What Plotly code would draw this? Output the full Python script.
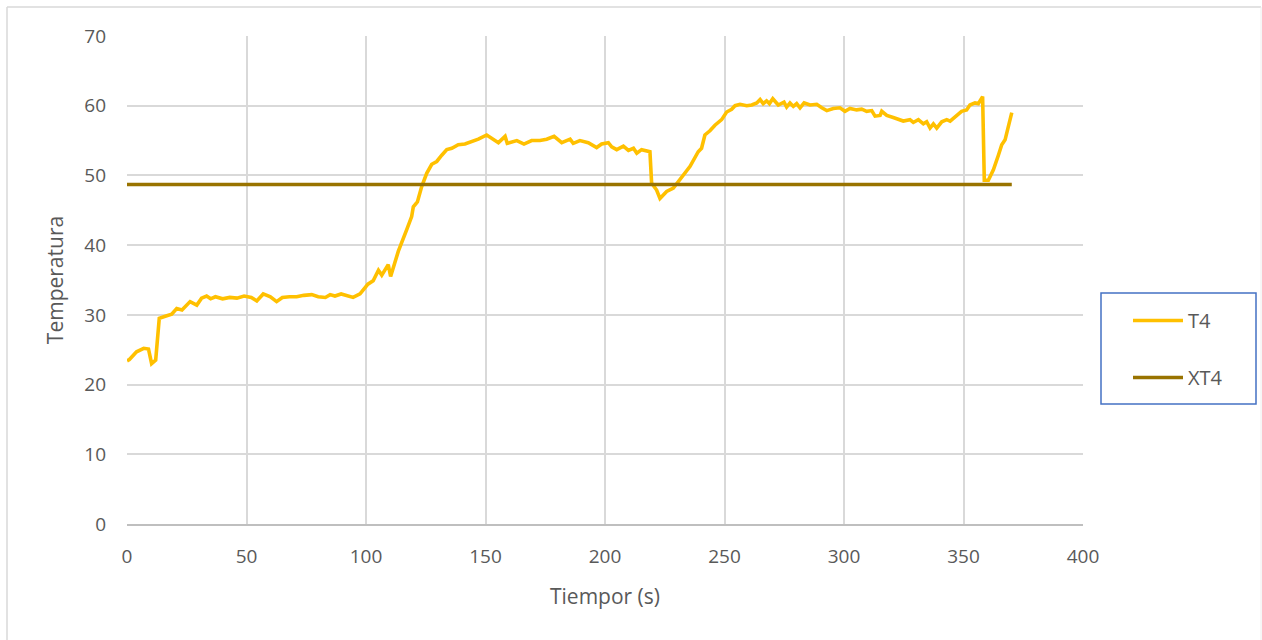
import plotly.graph_objects as go

# Time (s) and measured temperature T4
tiempo = [0, 1, 4, 7, 9, 10.3, 12, 13.5, 16, 18.7, 20.8, 23, 26.4, 29.2, 31.2, 33.3,
          35, 37, 40, 43, 46, 49, 52, 54.3, 57, 60, 62.6, 65, 68, 71, 74, 77.3, 80,
          83, 85, 87, 89.6, 92, 94.6, 97.5, 100.8, 103, 105.2, 106.6, 109.3, 110.3,
          113.5, 117, 119.1, 119.8, 121.5, 123.3, 125.4, 127.5, 129.6, 131.7, 133.8,
          135.9, 138.6, 141.4, 144.2, 147, 150.5, 152.6, 155.4, 158.2, 159.1, 163.1,
          166.1, 169.3, 172.8, 175.6, 178.7, 181.9, 185.4, 186.7, 189.5, 193, 196.5,
          198.6, 201.4, 202.8, 204.9, 207.7, 209.8, 211.9, 213.3, 215.3, 218.8, 219.5,
          221.6, 223, 225.8, 228.6, 231.4, 233.9, 235.6, 239, 240.4, 241.8, 243.9, 246,
          248.8, 250.9, 253, 254.4, 256.5, 259.3, 261.4, 263.5, 264.9, 266.2, 267.6,
          268.8, 270.2, 272.5, 274.9, 276, 277.4, 278.8, 280.2, 281.6, 283.3, 285.8,
          288.6, 290.7, 292.8, 295.5, 298.3, 300.4, 302.5, 305.3, 307.4, 309.5, 311.6,
          313, 315.1, 315.8, 317.9, 320.6, 322.7, 324.8, 327.6, 329, 331.1, 333.2,
          334.6, 336, 337.4, 338.8, 340.9, 343, 344.4, 346.4, 349.2, 351.3, 352.7,
          354.8, 356.2, 358, 358.7, 360.4, 362.5, 364.6, 366, 367.4, 368.8, 370.2]

t4 = [23.4, 23.6, 24.7, 25.2, 25.1, 23.0, 23.5, 29.5, 29.8, 30.1, 30.9, 30.7, 31.9,
      31.4, 32.4, 32.7, 32.3, 32.6, 32.3, 32.5, 32.4, 32.7, 32.5, 32.0, 33.0, 32.6,
      31.9, 32.5, 32.6, 32.6, 32.8, 32.9, 32.6, 32.5, 32.9, 32.7, 33.0, 32.8, 32.5,
      33.0, 34.4, 34.9, 36.4, 35.7, 37.2, 35.5, 39.1, 42.2, 44.1, 45.5, 46.2, 48.4,
      50.3, 51.6, 52.0, 52.9, 53.7, 53.9, 54.4, 54.5, 54.8, 55.2, 55.8, 55.3, 54.7,
      55.6, 54.6, 55.0, 54.5, 55.0, 55.0, 55.2, 55.6, 54.7, 55.2, 54.6, 55.0, 54.7,
      54.0, 54.5, 54.7, 54.1, 53.7, 54.2, 53.6, 53.9, 53.2, 53.7, 53.4, 48.9, 47.9,
      46.7, 47.7, 48.2, 49.5, 50.5, 51.3, 53.4, 53.9, 55.8, 56.4, 57.2, 58.0, 59.1,
      59.5, 60.0, 60.2, 60.0, 60.1, 60.4, 60.9, 60.3, 60.7, 60.3, 61.0, 60.1, 60.5,
      59.8, 60.4, 59.9, 60.3, 59.7, 60.4, 60.1, 60.2, 59.7, 59.3, 59.6, 59.7, 59.2,
      59.6, 59.4, 59.5, 59.2, 59.3, 58.5, 58.6, 59.2, 58.6, 58.3, 58.0, 57.8, 58.0,
      57.6, 58.0, 57.4, 57.7, 56.8, 57.4, 56.8, 57.7, 58.0, 57.8, 58.4, 59.2, 59.4,
      60.1, 60.4, 60.3, 61.3, 49.3, 49.3, 50.8, 52.9, 54.4, 55.1, 57.2, 59.0]

# Setpoint XT4
xt4_tiempo = [0, 370.2]
xt4 = [48.7, 48.7]

x_ticks = [0, 50, 100, 150, 200, 250, 300, 350, 400]
y_ticks = [0, 10, 20, 30, 40, 50, 60, 70]

txt = "#595959"
font_family = "Open Sans, Lato, sans-serif"

fig = go.Figure()
fig.add_trace(go.Scatter(x=tiempo, y=t4, mode="lines", name="T4", legendgroup="a",
                         line=dict(color="#FFC000", width=3.6)))
fig.add_trace(go.Scatter(x=xt4_tiempo, y=xt4, mode="lines", name="XT4", legendgroup="b",
                         line=dict(color="#997300", width=3.6)))

W, H = 1262, 640
L, R, T, B = 127, 1083, 36, 524
pw, ph = R - L, B - T


def px(x):
    return (x - L) / pw


def py(y):
    return (B - y) / ph


fig.update_layout(
    width=W, height=H,
    margin=dict(l=L, r=W - R, t=T, b=H - B, pad=0),
    paper_bgcolor="white", plot_bgcolor="white",
    font=dict(family=font_family, color=txt, size=19),
    showlegend=True,
    legend=dict(x=px(1128), y=py(301), xanchor="left", yanchor="top",
                bgcolor="rgba(0,0,0,0)", borderwidth=0,
                font=dict(size=20, color=txt),
                traceorder="grouped", tracegroupgap=28, itemwidth=50),
    shapes=[
        # legend frame
        dict(type="rect", xref="paper", yref="paper",
             x0=px(1101), x1=px(1256), y0=py(404), y1=py(293),
             line=dict(color="#4472C4", width=1.5)),
        # chart frame
        dict(type="line", xref="paper", yref="paper", x0=px(7), x1=px(1261),
             y0=py(7), y1=py(7), line=dict(color="#D9D9D9", width=1.5)),
        dict(type="line", xref="paper", yref="paper", x0=px(7), x1=px(7),
             y0=py(7), y1=py(645), line=dict(color="#D9D9D9", width=1.5)),
        dict(type="line", xref="paper", yref="paper", x0=px(1261), x1=px(1261),
             y0=py(7), y1=py(645), line=dict(color="#EEEEEE", width=1)),
    ],
)

fig.update_xaxes(range=[0, 400], tickvals=x_ticks, ticktext=[str(v) for v in x_ticks],
                 showgrid=True, gridcolor="#D9D9D9", gridwidth=1.6,
                 showline=True, linecolor="#BFBFBF", linewidth=1.6,
                 zeroline=False, ticks="", ticklabelstandoff=14,
                 tickfont=dict(size=19, color=txt),
                 title=dict(text="Tiempor (s)", font=dict(size=21, color=txt), standoff=22))
fig.update_yaxes(range=[0, 70], tickvals=y_ticks, ticktext=[str(v) for v in y_ticks],
                 showgrid=True, gridcolor="#D9D9D9", gridwidth=1.6,
                 showline=False, zeroline=False, ticks="", ticklabelstandoff=20,
                 tickfont=dict(size=19, color=txt),
                 title=dict(text="Temperatura", font=dict(size=21, color=txt), standoff=14))

fig.write_html("out.html")
